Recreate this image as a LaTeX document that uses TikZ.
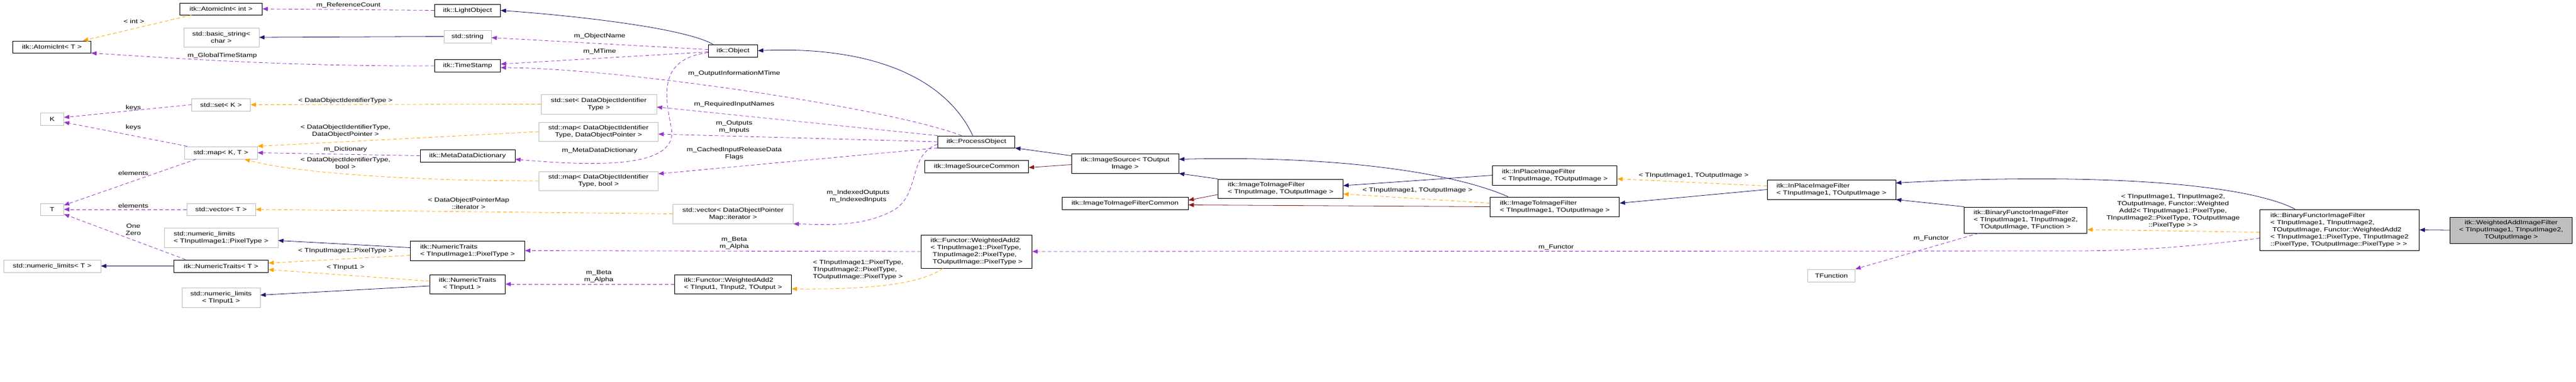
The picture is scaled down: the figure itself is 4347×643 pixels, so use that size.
\documentclass[tikz,border=0pt]{standalone}
\usepackage{fontspec}
\newfontfamily\dxf{Liberation Sans}[FakeStretch=1.25]
\usetikzlibrary{arrows.meta}
\definecolor{navy}{HTML}{191970}
\definecolor{dred}{HTML}{8B1A1A}
\definecolor{purp}{HTML}{9A32CD}
\definecolor{orng}{HTML}{FFA500}
\definecolor{gbord}{HTML}{BFBFBF}
\tikzset{
  cls/.style={draw=black,line width=0.9pt,fill=white,inner sep=2pt,font={\dxf\fontsize{10}{12}\selectfont}},
  ext/.style={cls,draw=gbord},
  lbl/.style={font={\dxf\fontsize{10}{12}\selectfont},inner sep=0pt,align=center},
  tip/.style={-{Triangle[length=9pt,width=7pt]}},
  inh/.style={tip,draw=navy,line width=0.8pt},
  prv/.style={tip,draw=dred,line width=0.8pt},
  use/.style={tip,draw=purp,line width=0.8pt,dash pattern=on 6pt off 4pt},
  tpl/.style={tip,draw=orng,line width=0.8pt,dash pattern=on 6pt off 4pt},
}
\begin{document}
\begin{tikzpicture}[x=1pt,y=-1pt]
\useasboundingbox (0,0) rectangle (4347,643);
% nodes
\node[cls,minimum width=139,minimum height=20] (aii) at (373,15) {itk::AtomicInt< int >};
\node[ext,minimum width=127,minimum height=32,align=center] (bstr) at (373.5,63) {std::basic\_string<\\char >};
\node[cls,minimum width=132,minimum height=20] (aiT) at (87.5,79) {itk::AtomicInt< T >};
\node[ext,minimum width=39,minimum height=21] (K) at (88,201) {K};
\node[ext,minimum width=99,minimum height=21] (setK) at (373,176.5) {std::set< K >};
\node[ext,minimum width=123,minimum height=21] (mapKT) at (372.7,257.5) {std::map< K, T >};
\node[ext,minimum width=39,minimum height=20] (T) at (88,353) {T};
\node[ext,minimum width=116,minimum height=20] (vecT) at (373,353) {std::vector< T >};
\node[ext,minimum width=192,minimum height=33,align=left] (nlTI1) at (373,400.5) {std::numeric\_limits\\< TInputImage1::PixelType >};
\node[ext,minimum width=164,minimum height=21] (nlT) at (88,448.5) {std::numeric\_limits< T >};
\node[cls,minimum width=159,minimum height=21] (NTT) at (373,448.5) {itk::NumericTraits< T >};
\node[ext,minimum width=132,minimum height=33,align=center] (nlTI) at (373,501.5) {std::numeric\_limits\\< TInput1 >};
\node[cls,minimum width=111,minimum height=21] (LO) at (789,17.5) {itk::LightObject};
\node[ext,minimum width=80,minimum height=21] (str) at (789,61.5) {std::string};
\node[cls,minimum width=111,minimum height=21] (TS) at (789,111) {itk::TimeStamp};
\node[cls,minimum width=83,minimum height=21] (Obj) at (1237,85.5) {itk::Object};
\node[ext,minimum width=195,minimum height=33,align=center] (setD) at (1010.5,175.5) {std::set< DataObjectIdentifier\\Type >};
\node[ext,minimum width=201,minimum height=32,align=center] (mapD) at (1010,222) {std::map< DataObjectIdentifier\\Type, DataObjectPointer >};
\node[cls,minimum width=160,minimum height=21] (MDD) at (789,262.5) {itk::MetaDataDictionary};
\node[ext,minimum width=201,minimum height=32,align=center] (mapB) at (1010,305) {std::map< DataObjectIdentifier\\Type, bool >};
\node[ext,minimum width=203,minimum height=33,align=center] (vecI) at (1237,360.5) {std::vector< DataObjectPointer\\Map::iterator >};
\node[cls,minimum width=193,minimum height=33,align=left] (NTTI1) at (789,422.5) {itk::NumericTraits\\< TInputImage1::PixelType >};
\node[cls,minimum width=127,minimum height=32,align=left] (NTTIn) at (789,479) {itk::NumericTraits\\\ \ < TInput1 >};
\node[cls,minimum width=197,minimum height=32,align=left] (WA2T) at (1237,479) {itk::Functor::WeightedAdd2\\< TInput1, TInput2, TOutput >};
\node[cls,minimum width=130,minimum height=20] (PO) at (1647.6,239) {itk::ProcessObject};
\node[cls,minimum width=175,minimum height=21] (ISC) at (1648,280.5) {itk::ImageSourceCommon};
\node[cls,minimum width=181,minimum height=33,align=center] (IS) at (1898.6,275.5) {itk::ImageSource< TOutput\\Image >};
\node[cls,minimum width=213,minimum height=21] (ITIFC) at (1898.6,342.5) {itk::ImageToImageFilterCommon};
\node[cls,minimum width=211,minimum height=32,align=left] (ITIF) at (2160.9,318) {itk::ImageToImageFilter\\< TInputImage, TOutputImage >};
\node[cls,minimum width=187,minimum height=56,align=left] (WA2PT) at (1648,424) {itk::Functor::WeightedAdd2\\< TInputImage1::PixelType,\\\ TInputImage2::PixelType,\\\ TOutputImage::PixelType >};
\node[cls,minimum width=210,minimum height=33,align=left] (IP) at (2623.8,295.5) {itk::InPlaceImageFilter\\< TInputImage, TOutputImage >};
\node[cls,minimum width=218,minimum height=33,align=left] (ITIF1) at (2623.8,348.5) {itk::ImageToImageFilter\\< TInputImage1, TOutputImage >};
\node[cls,minimum width=217,minimum height=33,align=left] (IP1) at (3090.5,319.5) {itk::InPlaceImageFilter\\< TInputImage1, TOutputImage >};
\node[cls,minimum width=207,minimum height=44,align=left] (BFg) at (3418.4,371) {itk::BinaryFunctorImageFilter\\< TInputImage1, TInputImage2,\\\ \ \ TOutputImage, TFunction >};
\node[ext,minimum width=80,minimum height=21] (TF) at (3090.5,464.5) {TFunction};
\node[cls,minimum width=269,minimum height=69,align=left] (BFc) at (3948,387.5) {itk::BinaryFunctorImageFilter\\< TInputImage1, TInputImage2,\\\ TOutputImage, Functor::WeightedAdd2\\< TInputImage1::PixelType, TInputImage2\\::PixelType, TOutputImage::PixelType > >};
\node[cls,fill=gbord,minimum width=206,minimum height=44,align=center] (WAIF) at (4237.5,388) {itk::WeightedAddImageFilter\\< TInputImage1, TInputImage2,\\TOutputImage >};
% navy inheritance
\draw[inh] ([xshift=8]Obj.north west) .. controls (1150,45) and (950,25) .. (LO.east);
\draw[inh] (str.west) -- (bstr.east);
\draw[inh] ([xshift=-6]PO.north) .. controls (1590,120) and (1450,78) .. (Obj.east);
\draw[inh] ([yshift=-4]IS.north west) -- (PO.south east);
\draw[inh] (ITIF.north west) -- (IS.south east);
\draw[inh] ([xshift=-79]ITIF1.north) .. controls (2450,290) and (2250,262) .. ([yshift=7]IS.east);
\draw[inh] (IP.west) -- ([yshift=5]ITIF.east);
\draw[inh] (IP1.west) -- ([yshift=6]ITIF1.east);
\draw[inh] (BFg.north west) -- (IP1.south east);
\draw[inh] ([xshift=-75]BFc.north) .. controls (3780,305) and (3500,292) .. ([yshift=11]IP1.east);
\draw[inh] (WAIF.west) -- (BFc.east);
\draw[inh] (NTT.west) -- (nlT.east);
\draw[inh] ([yshift=5]NTTI1.west) -- ([yshift=-5]nlTI1.east);
\draw[inh] ([yshift=-3]NTTIn.west) -- ([yshift=4]nlTI.east);
% dark red
\draw[prv] ([yshift=-2]IS.west) -- ([yshift=-2]ISC.east);
\draw[prv] ([yshift=-10]ITIF.west) -- ([yshift=5]ITIFC.east);
\draw[prv] (ITIF1.west) -- ([yshift=-3]ITIFC.east);
% purple usage
\draw[use] (LO.west) -- (aii.east) node[lbl,pos=0.5,above=2pt] (l1) {m\_ReferenceCount};
\draw[use] ([yshift=2]Obj.west) -- ([yshift=-2]str.east);
\node[lbl] (l2) at (1012,61) {m\_ObjectName};
\draw[use] ([yshift=-2]Obj.west) -- ([yshift=3]TS.east);
\node[lbl] (l3) at (1012,87) {m\_MTime};
\draw[use] (TS.west) .. controls (500,112) and (320,100) .. (aiT.south east);
\node[lbl] (l4) at (375,94) {m\_GlobalTimeStamp};
\coordinate (mdm) at (1133,217);
\draw[use] ([yshift=-3]Obj.west) .. controls (1110,100) and (1122,160) .. (mdm) .. controls (1145,285) and (1000,280) .. ([yshift=-6]MDD.east);
\node[lbl] (l5) at (1012,254) {m\_MetaDataDictionary};
\draw[use] ([xshift=-25]PO.north) .. controls (1500,182) and (1050,115) .. ([yshift=-3]TS.east);
\node[lbl] (l6) at (1239,124) {m\_OutputInformationMTime};
\draw[use] (PO.north west) -- ([yshift=-5]setD.east);
\node[lbl] (l7) at (1239,176) {m\_RequiredInputNames};
\draw[use] (PO.west) -- ([yshift=-4]mapD.east);
\node[lbl] (l8) at (1239,214) {m\_Outputs\\m\_Inputs};
\draw[use] (PO.south west) -- ([yshift=12]mapB.east);
\node[lbl] (l9) at (1239,259) {m\_CachedInputReleaseData\\Flags};
\coordinate (vim) at (1505,356);
\draw[use] ([yshift=-4]PO.west) .. controls (1530,262) and (1555,330) .. (vim) .. controls (1450,385) and (1380,378) .. (vecI.south east);
\node[lbl] (l10) at (1448,331) {m\_IndexedOutputs\\m\_IndexedInputs};
\draw[use] (MDD.west) -- (mapKT.east);
\node[lbl] (l11) at (583,252) {m\_Dictionary};
\draw[use] (setK.west) -- ([yshift=3]K.east);
\node[lbl] (l12) at (225,182) {keys};
\draw[use] ([xshift=5]mapKT.north west) -- ([yshift=-5]K.east);
\node[lbl] (l13) at (225,215) {keys};
\draw[use] ([xshift=20]mapKT.south west) -- ([yshift=7]T.east);
\node[lbl] (l14) at (225,292) {elements};
\draw[use] (vecT.west) -- (T.east);
\node[lbl] (l15) at (225,347) {elements};
\draw[use] ([xshift=20]NTT.north west) -- ([yshift=-8]T.east);
\node[lbl] (l16) at (225,387) {One\\Zero};
\draw[use] (WA2PT.west) -- (NTTI1.east);
\node[lbl] (l17) at (1239,410) {m\_Beta\\m\_Alpha};
\draw[use] (WA2T.west) -- (NTTIn.east);
\node[lbl] (l18) at (1010.5,466) {m\_Beta\\m\_Alpha};
\coordinate (fm) at (3500,423);
\draw[use] ([yshift=-14]BFc.west) .. controls (3700,416) and (3600,423) .. (fm) -- (WA2PT.east);
\node[lbl] (l19) at (2626,417) {m\_Functor};
\draw[use] ([xshift=24]BFg.south west) -- (TF.north east);
\node[lbl] (l20) at (3259,402) {m\_Functor};
% orange template
\draw[tpl] ([xshift=20]aii.south west) -- ([xshift=-14]aiT.north east);
\node[lbl] (l21) at (226,36) {< int >};
\draw[tpl] (setD.west) -- (setK.east);
\node[lbl] (l22) at (583,170) {< DataObjectIdentifierType >};
\draw[tpl] (mapD.west) -- (mapKT.north east);
\node[lbl] (l23) at (583,221) {< DataObjectIdentifierType,\\DataObjectPointer >};
\draw[tpl] (mapB.west) .. controls (700,305) and (500,292) .. ([xshift=-22]mapKT.south east);
\node[lbl] (l24) at (583,275) {< DataObjectIdentifierType,\\bool >};
\draw[tpl] (vecI.west) -- (vecT.east);
\node[lbl] (l25) at (790.8,343) {< DataObjectPointerMap\\::iterator >};
\draw[tpl] ([yshift=-8]NTTI1.west) -- ([yshift=5]NTT.east);
\node[lbl] (l26) at (583,423) {< TInputImage1::PixelType >};
\draw[tpl] ([yshift=5]NTTIn.west) -- ([yshift=-6]NTT.east);
\node[lbl] (l27) at (583,451) {< TInput1 >};
\draw[tpl] ([xshift=-57]WA2PT.south) .. controls (1550,482) and (1450,488) .. ([yshift=-8]WA2T.east);
\node[lbl,align=left] (l28) at (1448,455) {< TInputImage1::PixelType,\\TInputImage2::PixelType,\\TOutputImage::PixelType >};
\draw[tpl] ([yshift=6]ITIF1.west) -- ([yshift=-9]ITIF.east);
\node[lbl] (l29) at (2392,321) {< TInputImage1, TOutputImage >};
\draw[tpl] ([yshift=6]IP1.west) -- ([yshift=-6]IP.east);
\node[lbl] (l30) at (2858,296) {< TInputImage1, TOutputImage >};
\draw[tpl] ([yshift=-4]BFc.west) -- ([yshift=-16]BFg.east);
\node[lbl] (l31) at (3667,356) {< TInputImage1, TInputImage2,\\TOutputImage, Functor::Weighted\\Add2< TInputImage1::PixelType,\\TInputImage2::PixelType, TOutputImage\\::PixelType > >};
\end{tikzpicture}
\end{document}
